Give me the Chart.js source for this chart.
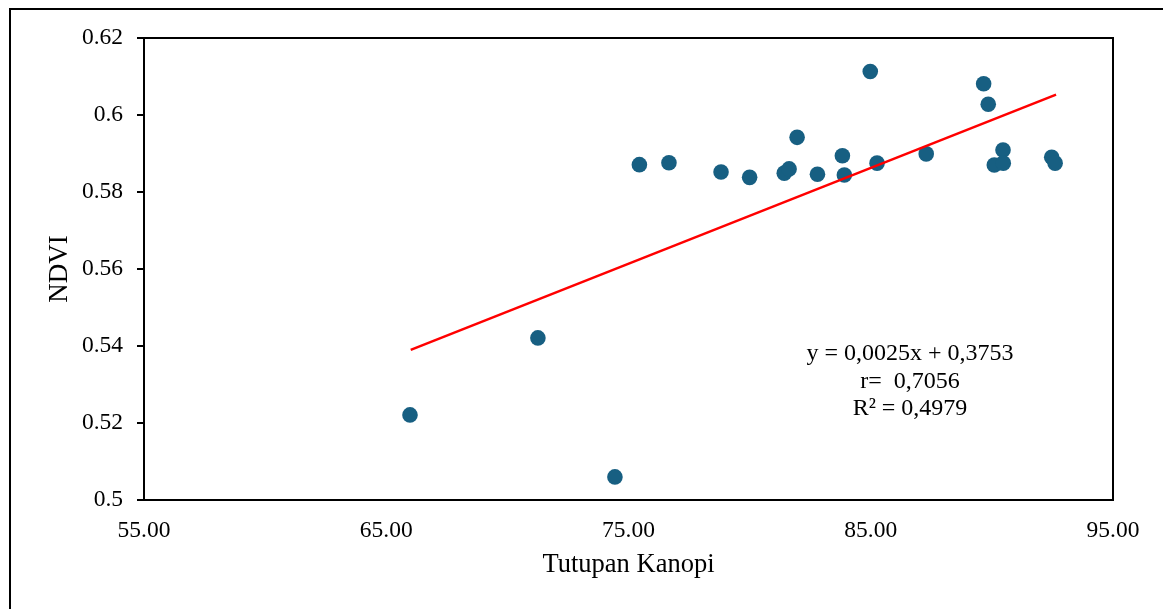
<!DOCTYPE html>
<html>
<head>
<meta charset="utf-8">
<script src="https://cdn.jsdelivr.net/npm/chart.js@4"></script>
<style>
  body { margin: 0; background: #fff; }
  #wrap { position: relative; width: 1163px; height: 609px; }
  #frame {
    position: absolute; left: 9px; top: 8px; right: -10px; bottom: -10px;
    border-left: 2px solid #000; border-top: 2px solid #000;
  }
  canvas { position: absolute; left: 0; top: 0; }
</style>
</head>
<body>
<div id="wrap">
  <div id="frame"></div>
  <canvas id="ndviChart" width="1163" height="609"></canvas>
</div>
<script>
// data
const kanopi = [65.98, 71.26, 74.44, 75.45, 76.67, 78.82, 80.0, 81.43, 81.63, 81.96, 82.8,
  83.83, 83.91, 84.98, 85.26, 87.29, 89.66, 89.85, 90.46, 90.10, 90.47, 92.47, 92.61];
const ndvi = [0.5221, 0.5421, 0.506, 0.5871, 0.5876, 0.5852, 0.5838, 0.5849, 0.5860, 0.5942, 0.5846,
  0.5894, 0.5844, 0.6113, 0.5875, 0.5899, 0.6081, 0.6028, 0.5909, 0.5870, 0.5875, 0.5890, 0.5875];

// trendline ends (linear fit shown on chart)
const trendX = [66.01, 92.65];
const trendY = [0.539, 0.6053];

const xTicks = [55, 65, 75, 85, 95];
const yTicks = [0.5, 0.52, 0.54, 0.56, 0.58, 0.6, 0.62];

const eqLines = ['y = 0,0025x + 0,3753', 'r=  0,7056', 'R\u00b2 = 0,4979'];

const serif = '"Liberation Serif", "Times New Roman", serif';

// box around plot + regression text
const extras = {
  id: 'extras',
  afterDraw(chart) {
    const ctx = chart.ctx;
    const a = chart.chartArea;
    ctx.save();
    ctx.strokeStyle = '#000';
    ctx.lineWidth = 2;
    ctx.strokeRect(a.left, a.top, a.right - a.left, a.bottom - a.top);

    ctx.fillStyle = '#000';
    ctx.font = '24px ' + serif;
    ctx.textAlign = 'center';
    ctx.textBaseline = 'middle';
    eqLines.forEach((t, i) => {
      ctx.fillText(t, 910, 354 + i * 27.5);
    });
    ctx.restore();
  }
};

const ctx = document.getElementById('ndviChart');
new Chart(ctx, {
  type: 'scatter',
  data: {
    datasets: [
      {
        type: 'line',
        label: 'trend',
        data: trendX.map((x, i) => ({ x: x, y: trendY[i] })),
        borderColor: '#ff0000',
        borderWidth: 2.5,
        pointRadius: 0,
        fill: false,
        order: 0
      },
      {
        label: 'NDVI',
        data: kanopi.map((x, i) => ({ x: x, y: ndvi[i] })),
        backgroundColor: '#175f82',
        borderWidth: 0,
        pointRadius: 7.8,
        order: 1
      }
    ]
  },
  options: {
    responsive: false,
    animation: false,
    devicePixelRatio: 1,
    layout: { padding: { top: 38, right: 50, left: 0, bottom: 0 } },
    plugins: { legend: { display: false }, tooltip: { enabled: false } },
    scales: {
      x: {
        type: 'linear',
        min: 55, max: 95,
        afterFit: (s) => { s.height = 109; },
        afterBuildTicks: (s) => { s.ticks = xTicks.map(v => ({ value: v })); },
        grid: { display: false },
        border: { display: true, color: '#000', width: 2 },
        ticks: {
          color: '#000',
          font: { family: serif, size: 23.5 },
          padding: 9,
          maxRotation: 0,
          callback: (v) => v.toFixed(2)
        },
        title: {
          display: true,
          text: 'Tutupan Kanopi',
          color: '#000',
          font: { family: serif, size: 26.5 },
          padding: { bottom: 28, top: 0 }
        }
      },
      y: {
        min: 0.5, max: 0.62,
        afterFit: (s) => { s.width = 144; },
        afterBuildTicks: (s) => { s.ticks = yTicks.map(v => ({ value: v })); },
        grid: {
          display: true,
          drawOnChartArea: false,
          drawTicks: true,
          tickLength: 7,
          color: '#000',
          lineWidth: 2
        },
        border: { display: true, color: '#000', width: 2 },
        ticks: {
          color: '#000',
          font: { family: serif, size: 23.5 },
          padding: 14,
          callback: (v) => String(+v.toFixed(2))
        },
        title: {
          display: true,
          text: 'NDVI',
          color: '#000',
          font: { family: serif, size: 27 },
          padding: { top: 43.8, bottom: 0 }
        }
      }
    }
  },
  plugins: [extras]
});
</script>
</body>
</html>
